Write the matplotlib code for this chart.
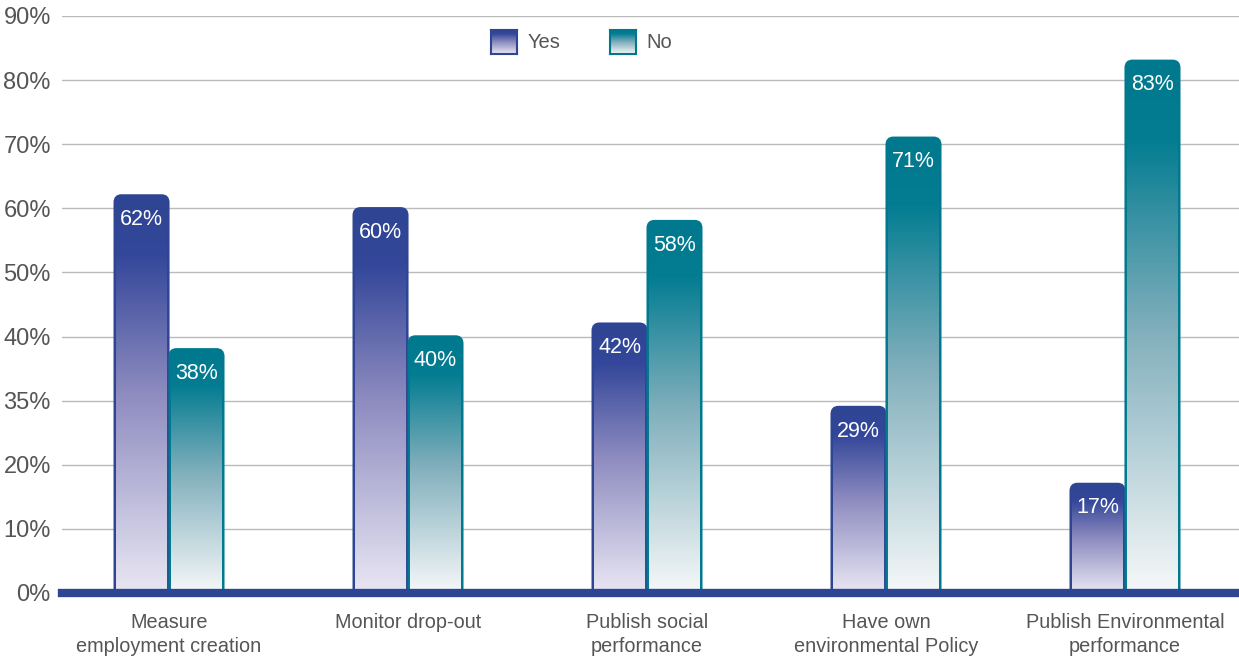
import matplotlib.pyplot as plt
import numpy as np
from matplotlib.path import Path
from matplotlib.patches import PathPatch
from matplotlib.colors import LinearSegmentedColormap

plt.rcParams["font.family"] = ["Liberation Sans", "DejaVu Sans"]

# data
categories = ["Measure\nemployment creation", "Monitor drop-out", "Publish social\nperformance",
              "Have own\nenvironmental Policy", "Publish Environmental\nperformance"]
yes_vals = [62, 60, 42, 29, 17]
no_vals = [38, 40, 58, 71, 83]
ytick_vals = [0, 10, 20, 30, 40, 50, 60, 70, 80, 90]
ytick_labels = ["0%", "10%", "20%", "35%", "40%", "50%", "60%", "70%", "80%", "90%"]

yes_edge = "#2E4593"
no_edge = "#00798F"
yes_cmap = LinearSegmentedColormap.from_list(
    "yes", [(0, "#E9E7F3"), (0.5, "#8E8CC0"), (0.85, "#34479A"), (1, "#2E4593")])
no_cmap = LinearSegmentedColormap.from_list(
    "no", [(0, "#F6F8F9"), (0.5, "#7FAEBB"), (0.85, "#047D92"), (1, "#00798F")])
text_gray = "#555555"

fig = plt.figure(figsize=(12.39, 6.61), dpi=100)
ax = fig.add_axes([0.050, 0.1029, 0.950, 0.8729])

x = np.arange(len(categories))
bw = 0.23


def rounded_top(x0, x1, y0, y1, rx, ry):
    verts = [(x0, y0), (x0, y1 - ry), (x0, y1), (x0 + rx, y1), (x1 - rx, y1),
             (x1, y1), (x1, y1 - ry), (x1, y0), (x0, y0)]
    codes = [Path.MOVETO, Path.LINETO, Path.CURVE3, Path.CURVE3, Path.LINETO,
             Path.CURVE3, Path.CURVE3, Path.LINETO, Path.CLOSEPOLY]
    return Path(verts, codes)


def gradient_bar(xc, h, cmap, edge):
    x0, x1 = xc - bw / 2 + 0.003, xc + bw / 2 - 0.003
    p = rounded_top(x0, x1, 0, h, 0.028, 1.1)
    grad = np.linspace(0, 1, 256).reshape(-1, 1)
    im = ax.imshow(grad, cmap=cmap, origin="lower", aspect="auto",
                   extent=[x0, x1, 0, h], zorder=3)
    patch = PathPatch(p, facecolor="none", edgecolor=edge, lw=1.8, zorder=4)
    ax.add_patch(patch)
    im.set_clip_path(patch)
    ax.text(xc, h - 2.1, f"{h}%", ha="center", va="top", color="white", fontsize=15.5, zorder=5)


for i in range(len(categories)):
    gradient_bar(x[i] - bw / 2, yes_vals[i], yes_cmap, yes_edge)
    gradient_bar(x[i] + bw / 2, no_vals[i], no_cmap, no_edge)

ax.set_xlim(-0.448, 4.477)
ax.set_ylim(0, 90)
ax.set_yticks(ytick_vals)
ax.set_yticklabels(ytick_labels, color=text_gray, fontsize=17)
ax.yaxis.grid(True, color="#BBBBBB", lw=1)
ax.set_axisbelow(True)
ax.tick_params(axis="y", length=0, pad=8)
ax.set_xticks([])
for s in ax.spines.values():
    s.set_visible(False)
ax.axhline(0, color=yes_edge, lw=6, zorder=6, clip_on=False)

for i, c in enumerate(categories):
    ax.text(x[i], -3.2, c, ha="center", va="top", color=text_gray, fontsize=14.3, linespacing=1.32)

# legend swatches
grad = np.linspace(0, 1, 64).reshape(-1, 1)
for fx, cmap, edge, lab in [(0.396, yes_cmap, yes_edge, "Yes"), (0.492, no_cmap, no_edge, "No")]:
    lax = fig.add_axes([fx, 0.918, 0.021, 0.036])
    lax.imshow(grad, cmap=cmap, origin="lower", aspect="auto")
    lax.set_xticks([])
    lax.set_yticks([])
    for s in lax.spines.values():
        s.set_color(edge)
        s.set_linewidth(1.5)
    fig.text(fx + 0.030, 0.936, lab, ha="left", va="center", color=text_gray, fontsize=14.5)

fig.savefig("out.png", dpi=100)
